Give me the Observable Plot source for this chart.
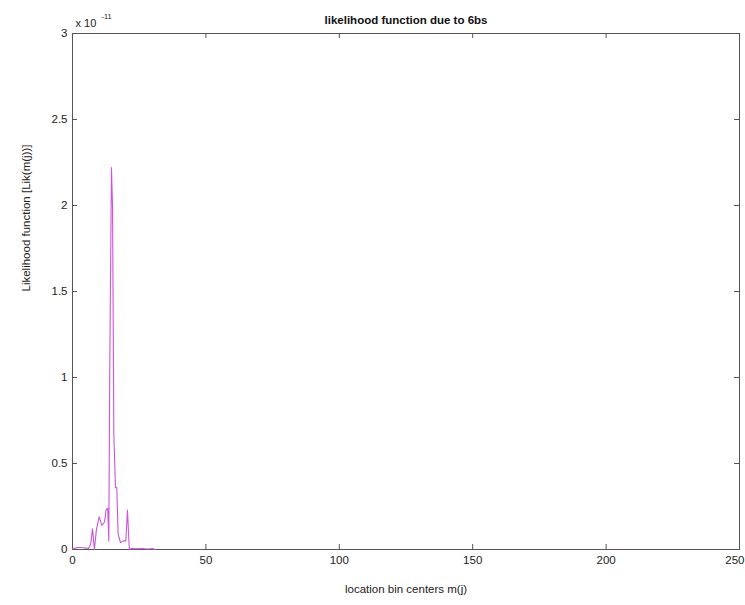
<!DOCTYPE html>
<html><head><meta charset="utf-8">
<script src="https://cdn.jsdelivr.net/npm/d3@7"></script>
<script src="https://cdn.jsdelivr.net/npm/@observablehq/plot@0.6"></script>
<style>
html,body{margin:0;padding:0;background:#fff;}
svg{font-family:"Liberation Sans",Arial,sans-serif;}
</style>
</head><body>
<div id="chart"></div>
<script>
const title = "likelihood function due to 6bs";
const xLabel = "location bin centers m(j)";
const yLabel = "Likelihood function [Lik(m(j))]";
const yExponent = "x 10";
const yExponentPower = "-11";
const xTicks = [0, 50, 100, 150, 200, 250];
const yTicks = [0, 0.5, 1, 1.5, 2, 2.5, 3];
const yTickLabels = ["0", "0.5", "1", "1.5", "2", "2.5", "3"];
const binCenters = [0, 1, 2, 3, 4, 5, 6, 6.8, 7.5, 8.2, 9, 10, 11, 12, 12.6, 13.2, 13.6, 14.0, 14.6, 15.0, 15.5, 16.1, 16.6, 17.1, 18, 19, 20, 20.6, 21.3, 22, 24, 26, 28, 30, 31];
const likelihood = [0.003, 0.008, 0.012, 0.012, 0.010, 0.008, 0.006, 0.03, 0.12, 0.0, 0.12, 0.19, 0.14, 0.16, 0.23, 0.24, 0.05, 1.12, 2.22, 2.0, 0.67, 0.36, 0.36, 0.09, 0.04, 0.05, 0.05, 0.23, 0.0, 0.006, 0.004, 0.006, 0.003, 0.005, 0.0];

const data = binCenters.map((x, i) => ({x, y: likelihood[i]}));
const axisColor = "#555";
const W = 745, H = 605, mL = 72, mR = 6, mT = 33, mB = 56;
const fh = H - mT - mB, fw = W - mL - mR;
const lastTick = xTicks[xTicks.length - 1];

const chart = Plot.plot({
  width: W, height: H,
  marginLeft: mL, marginRight: mR, marginTop: mT, marginBottom: mB,
  style: {fontFamily: "'Liberation Sans', Arial, sans-serif", fontSize: "11px", color: "#222", background: "#fff"},
  x: {domain: [0, 250], axis: null},
  y: {domain: [0, 3], axis: null},
  marks: [
    Plot.frame({stroke: axisColor, strokeWidth: 1}),
    Plot.tickX(xTicks, {x: d => d, stroke: axisColor, insetTop: fh - 5}),
    Plot.tickX(xTicks, {x: d => d, stroke: axisColor, insetBottom: fh - 5}),
    Plot.tickY(yTicks, {y: d => d, stroke: axisColor, insetRight: fw - 5}),
    Plot.tickY(yTicks, {y: d => d, stroke: axisColor, insetLeft: fw - 5}),
    Plot.line(data, {x: "x", y: "y", stroke: "#cc55dd", strokeWidth: 1.1}),
    Plot.text(xTicks.slice(0, -1), {x: d => d, frameAnchor: "bottom", dy: 14, text: d => String(d), fill: "#222", fontSize: 11.5}),
    Plot.text([lastTick], {x: d => d, frameAnchor: "bottom", dy: 14, dx: 5, textAnchor: "end", text: d => String(d), fill: "#222", fontSize: 11.5}),
    Plot.text(yTicks, {y: d => d, frameAnchor: "left", dx: -5, textAnchor: "end", text: (d, i) => yTickLabels[i], fill: "#222", fontSize: 11.5}),
    Plot.text([xLabel], {frameAnchor: "bottom", dy: 43, text: d => d, fill: "#222", fontSize: 11.5}),
    Plot.text([yLabel], {frameAnchor: "left", dx: -46, rotate: -90, text: d => d, fill: "#222", fontSize: 11.5}),
    Plot.text([title], {frameAnchor: "top", dy: -18, text: d => d, fill: "#111", fontSize: 11.5, fontWeight: "bold"}),
    Plot.text([yExponent], {frameAnchor: "top-left", dx: 3, dy: -14, textAnchor: "start", text: d => d, fill: "#222", fontSize: 11}),
    Plot.text([yExponentPower], {frameAnchor: "top-left", dx: 29, dy: -20, textAnchor: "start", text: d => d, fill: "#222", fontSize: 7.5})
  ]
});
document.getElementById("chart").appendChild(chart);
</script>
</body></html>
